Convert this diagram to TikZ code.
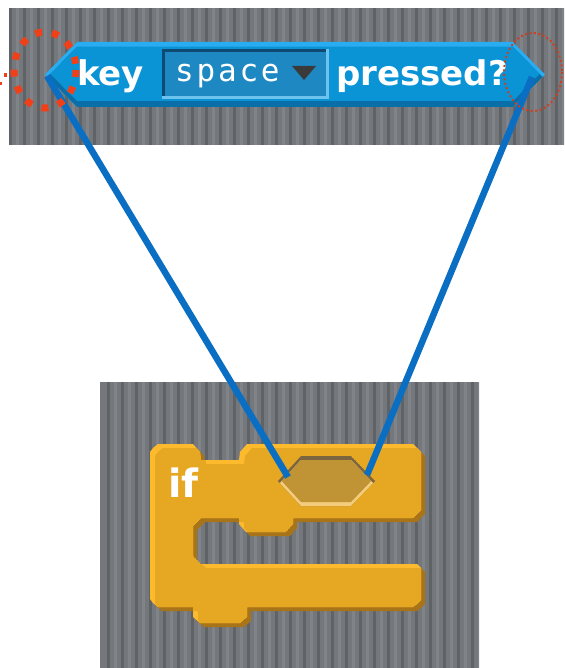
\documentclass[tikz,border=0pt]{standalone}
\usepackage{fontspec}
\setmainfont{DejaVu Sans}
\newfontfamily\pixmono{DejaVu Sans Mono}[LetterSpace=9]
\usetikzlibrary{calc}

\definecolor{panelgray}{HTML}{74777B}
\definecolor{stripedark}{HTML}{606366}
\definecolor{stripelight}{HTML}{808387}
\definecolor{keymain}{HTML}{0A94D6}
\definecolor{keylight}{HTML}{29ADF2}
\definecolor{keydark}{HTML}{0A6FA8}
\definecolor{menufill}{HTML}{1E88C2}
\definecolor{menudark}{HTML}{0E4A73}
\definecolor{menulight}{HTML}{6EC3EE}
\definecolor{menuarrow}{HTML}{3A3A3A}
\definecolor{ifmain}{HTML}{E6A822}
\definecolor{iflight}{HTML}{FDBA2C}
\definecolor{ifshadow}{HTML}{A8741A}
\definecolor{slotmain}{HTML}{C09334}
\definecolor{slotdark}{HTML}{7B6640}
\definecolor{slotlight}{HTML}{F4CD7C}
\definecolor{linkblue}{HTML}{0A6FC2}
\definecolor{markred}{HTML}{F0401A}

\def\keypath{(77,42) -- (513,42) -- (545,74.5) -- (513,107) -- (77,107) -- (45,74.5) -- cycle}
\def\ifpath{(150,452) -- (153,448) -- (158,444) -- (193,444) -- (200,452) -- (201,460) -- (239,460) -- (240,452) -- (247,444) -- (413,444) -- (417,448) -- (421,452) -- (421,510) -- (417,514) -- (413,518) -- (293,518) -- (293,524) -- (286,532) -- (246,532) -- (239,524) -- (239,518) -- (201,518) -- (197,522) -- (193,526) -- (193,556) -- (197,560) -- (201,564) -- (417,564) -- (421,568) -- (421,600) -- (417,604) -- (413,607) -- (247,607) -- (247,617) -- (240,623) -- (200,623) -- (193,617) -- (193,607) -- (158,607) -- (153,603) -- (150,599) -- cycle}
\def\slotpath{(301,456) -- (351,456) -- (375,481) -- (351,506) -- (301,506) -- (278,481) -- cycle}

\begin{document}
\begin{tikzpicture}[
    x=1pt, y=-1pt,
    lbl/.style={text=white, inner sep=0pt, anchor=base west, font=\fontsize{34}{34}\selectfont\bfseries},
    menutext/.style={text=white, inner sep=0pt, anchor=base west, font=\fontsize{31}{31}\selectfont\pixmono},
    link/.style={draw=linkblue, line width=6.5pt},
    bigring/.style={draw=markred, line width=7pt, dash pattern=on 7pt off 10pt},
    thinring/.style={draw=markred!90!black, line width=1.8pt, dash pattern=on 2pt off 2.5pt}
]
    \useasboundingbox (0,0) rectangle (564,668);

    % Panels
    \begin{scope}
        \clip (9,8) rectangle (564,145);
        \fill[panelgray] (9,8) rectangle (564,145);
        \foreach \i in {0,...,40} {
            \fill[stripedark] ({9+14*\i},8) rectangle ++(3,137);
            \fill[stripelight] ({16+14*\i},8) rectangle ++(3,137);
        }
    \end{scope}
    \begin{scope}
        \clip (100,382) rectangle (479,668);
        \fill[panelgray] (100,382) rectangle (479,668);
        \foreach \i in {0,...,27} {
            \fill[stripedark] ({107+14*\i},382) rectangle ++(3,286);
            \fill[stripelight] ({114+14*\i},382) rectangle ++(3,286);
        }
    \end{scope}

    % Reporter block
    \begin{scope}
        \clip \keypath;
        \fill[keylight] \keypath;
        \clip[shift={(0,5)}] \keypath;
        \fill[keydark] \keypath;
        \clip[shift={(0,-6)}] \keypath;
        \fill[keymain] \keypath;
    \end{scope}
    \fill[menulight] (162,49) rectangle (329,99);
    \fill[menudark] (162,49) rectangle (326,96);
    \fill[menufill] (165,52) rectangle (326,96);
    \fill[menuarrow] (292,66) -- (316,66) -- (304,80) -- cycle;

    \node[lbl] (key) at (77,86) {key};
    \node[menutext] (space) at (175,82) {space};
    \node[lbl] (pressed) at (336,86) {pressed?};

    % If block
    \fill[ifshadow, shift={(4,4)}] \ifpath;
    \begin{scope}
        \clip \ifpath;
        \fill[iflight] \ifpath;
        \clip[shift={(5,4)}] \ifpath;
        \fill[ifmain] \ifpath;
    \end{scope}
    \begin{scope}
        \clip \slotpath;
        \fill[slotdark] \slotpath;
        \clip[shift={(0,4)}] \slotpath;
        \fill[slotlight] \slotpath;
        \clip[shift={(0,-4)}] \slotpath;
        \fill[slotmain] \slotpath;
    \end{scope}

    \node[lbl, font=\fontsize{39}{39}\selectfont\bfseries] (if) at (168,497) {if};

    % Links
    \coordinate (keyL) at (47,76);
    \coordinate (keyR) at (532,77);
    \coordinate (slotL) at (288,477);
    \coordinate (slotR) at (367,475);
    \draw[link] (keyL) -- (slotL);
    \draw[link] (keyR) -- (slotR);

    % Marks
    \draw[bigring] (45,70) ellipse [x radius=31, y radius=38];
    \fill[markred] (4,73) rectangle (7,77);
    \fill[markred] (0,82) rectangle (2,85);
    \draw[thinring] (533,72) ellipse [x radius=29, y radius=39];
\end{tikzpicture}
\end{document}
